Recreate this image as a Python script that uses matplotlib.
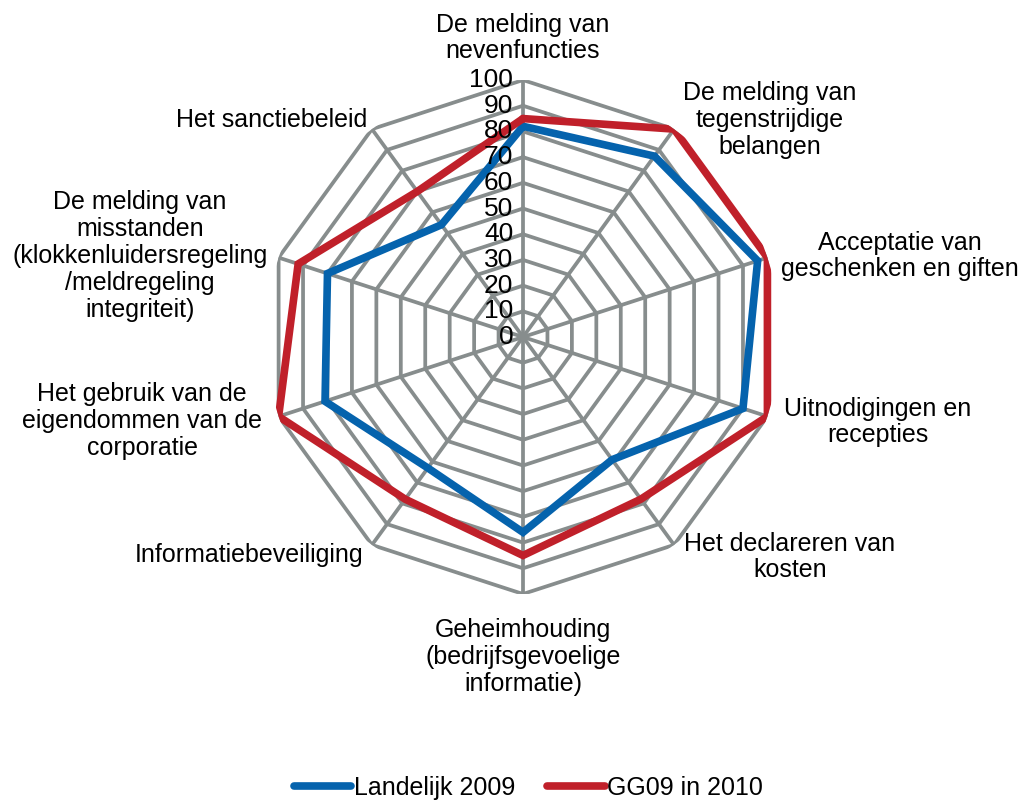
import numpy as np
import matplotlib
matplotlib.use('Agg')
import matplotlib.pyplot as plt
from matplotlib.transforms import offset_copy

# categorieen, met de klok mee vanaf boven
categories = [
    'De melding van\nnevenfuncties',
    'De melding van\ntegenstrijdige\nbelangen',
    'Acceptatie van\ngeschenken en giften',
    'Uitnodigingen en\nrecepties',
    'Het declareren van\nkosten',
    'Geheimhouding\n(bedrijfsgevoelige\ninformatie)',
    'Informatiebeveiliging',
    'Het gebruik van de\neigendommen van de\ncorporatie',
    'De melding van\nmisstanden\n(klokkenluidersregeling\n/meldregeling\nintegriteit)',
    'Het sanctiebeleid',
]
landelijk_2009 = [82, 87, 96, 90, 59, 76, 63, 81, 80, 54]
gg09_2010 = [85, 100, 100, 100, 78, 85, 78, 100, 92, 70]
ticks = [0, 10, 20, 30, 40, 50, 60, 70, 80, 90, 100]

plt.rcParams['font.family'] = ['Liberation Sans Narrow', 'Liberation Sans', 'DejaVu Sans']
fs = 18
grid_col = '#878d8d'

fig = plt.figure(figsize=(10.22, 8.05), dpi=100)
ax = fig.add_axes([0.2603, 0.2621, 0.5029, 0.6385], projection='polar')
ax.set_theta_offset(np.pi / 2)
ax.set_theta_direction(-1)
ax.set_ylim(0, 100)
ax.grid(False)
ax.spines['polar'].set_visible(False)
ax.set_xticks([])
ax.set_yticks([])
ax.patch.set_alpha(0)

n = len(categories)
theta = np.linspace(0, 2 * np.pi, n, endpoint=False)
theta_c = np.append(theta, theta[0])

# veelhoekig raster
for t in ticks[1:]:
    ax.plot(theta_c, [t] * (n + 1), color=grid_col, lw=2.7, zorder=1)
for th in theta:
    ax.plot([th, th], [0, 100], color=grid_col, lw=2.7, zorder=1)

# reeksen
ax.plot(theta_c, landelijk_2009 + landelijk_2009[:1], color='#0563ad', lw=5.5,
        label='Landelijk 2009', zorder=3, solid_joinstyle='miter', solid_capstyle='round')
ax.plot(theta_c, gg09_2010 + gg09_2010[:1], color='#c0202a', lw=5.5,
        label='GG09 in 2010', zorder=3, solid_joinstyle='miter', solid_capstyle='round')

# schaalwaarden langs bovenste as
tr = offset_copy(ax.transData, fig=fig, x=-7, y=0, units='points')
for t in ticks:
    ax.text(0, t, str(t), transform=tr, ha='right', va='center', fontsize=19, zorder=4)

# categorie-labels (posities in figuurpixels)
W, H = 1022, 805
label_pos = [
    (523, 38), (770, 120), (900, 256), (878, 422), (790, 557),
    (523, 657), (249, 555), (142, 421), (140, 256), (272, 120),
]
for lab, (px, py) in zip(categories, label_pos):
    fig.text(px / W, 1 - py / H, lab, ha='center', va='center', multialignment='center',
             fontsize=fs, linespacing=1.15)

fig.legend(loc='lower center', bbox_to_anchor=(0.517, -0.022), ncol=2, frameon=False,
           fontsize=fs, handlelength=2.3, handletextpad=0.1, columnspacing=1.3)

fig.savefig('out.png', dpi=100)
